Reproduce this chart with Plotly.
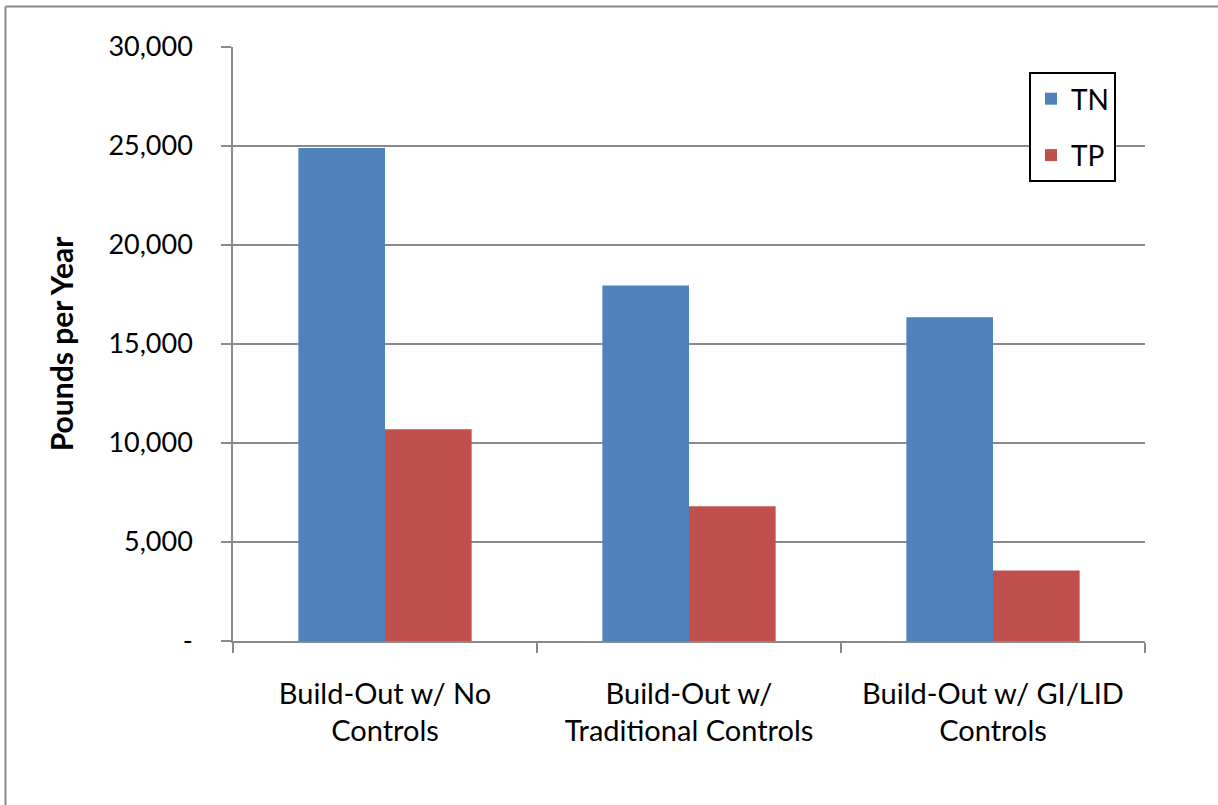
import plotly.graph_objects as go

# Annual nutrient loads by build-out scenario
categories = ["Build-Out w/ No<br>Controls",
              "Build-Out w/<br>Traditional Controls",
              "Build-Out w/ GI/LID<br>Controls"]
tn_values = [24900, 17950, 16350]
tp_values = [10700, 6800, 3560]

y_tick_vals = [0, 5000, 10000, 15000, 20000, 25000, 30000]
y_tick_text = ["-", "5,000", "10,000", "15,000", "20,000", "25,000", "30,000"]

FONT = "Lato"
GRID = "#8a8a8a"

fig = go.Figure()
fig.add_trace(go.Bar(name="TN", x=categories, y=tn_values,
                     marker=dict(color="#4F81BD", line=dict(width=0)),
                     legendgroup="tn"))
fig.add_trace(go.Bar(name="TP", x=categories, y=tp_values,
                     marker=dict(color="#C0504D", line=dict(width=0)),
                     legendgroup="tp"))

W, H = 1218, 805
L, R, T, B = 233, 1218 - 1145, 47, 805 - 641
pw, ph = W - L - R, H - T - B

def px_x(px):
    return (px - L) / pw

def px_y(py):
    return (H - B - py) / ph

fig.update_layout(
    width=W, height=H,
    margin=dict(l=L, r=R, t=T, b=B, autoexpand=False),
    paper_bgcolor="white", plot_bgcolor="white",
    barmode="group", bargap=0.43, bargroupgap=0,
    font=dict(family=FONT, color="black", size=26),
    xaxis=dict(
        type="category", tickson="boundaries",
        ticks="outside", ticklen=10, tickcolor=GRID, tickwidth=1.5,
        showline=True, linecolor=GRID, linewidth=1.5,
        showgrid=False, tickfont=dict(size=29),
        ticklabelstandoff=26,
    ),
    yaxis=dict(
        range=[0, 30000], tickvals=y_tick_vals, ticktext=y_tick_text,
        ticks="outside", ticklen=10, tickcolor=GRID, tickwidth=1.5,
        showline=True, linecolor=GRID, linewidth=1.5,
        showgrid=True, gridcolor=GRID, gridwidth=1.5,
        zeroline=False, tickfont=dict(size=27),
        ticklabelstandoff=23,
        title=dict(text="<b>Pounds per Year</b>", font=dict(size=30), standoff=26),
    ),
    legend=dict(
        x=px_x(1029), y=px_y(72), xanchor="left", yanchor="top",
        bordercolor="black", borderwidth=2, bgcolor="white",
        font=dict(size=28), tracegroupgap=17,
        traceorder="grouped", itemwidth=30,
    ),
    shapes=[
        # outer chart frame (left and top edges fall inside the canvas)
        dict(type="line", xref="paper", yref="paper",
             x0=px_x(5.5), x1=px_x(1230), y0=px_y(6.5), y1=px_y(6.5),
             line=dict(color="#8a8a8a", width=2), layer="below"),
        dict(type="line", xref="paper", yref="paper",
             x0=px_x(5.5), x1=px_x(5.5), y0=px_y(6.5), y1=px_y(820),
             line=dict(color="#8a8a8a", width=2), layer="below"),
    ],
)

fig.write_html("out.html")
